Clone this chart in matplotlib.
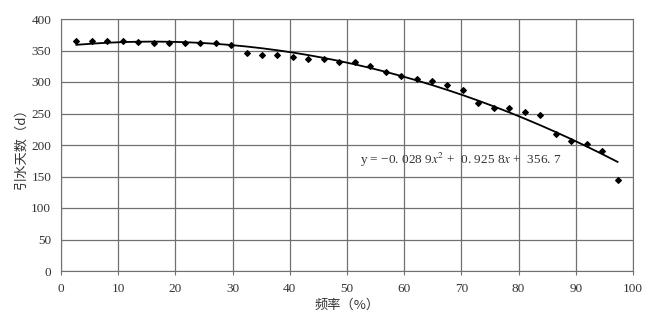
import numpy as np
import matplotlib
matplotlib.use('Agg')
import matplotlib.pyplot as plt

# observed points: frequency (%) vs diversion days
freq = [i / 37 * 100 for i in range(1, 37)]
days = [365, 365, 365, 365, 363, 362, 362, 362, 362, 362, 359, 346,
        343, 343, 340, 336, 336, 331, 331, 326, 316, 310, 304, 301,
        296, 288, 267, 258, 258, 253, 247, 217, 206, 201, 191, 145]

# trend line coefficients shown on the chart (a*x^2 + b*x + c)
coef = [-0.0289, 0.9258, 356.7]

xticks = list(range(0, 101, 10))
yticks = list(range(0, 401, 50))

plt.rcParams['font.family'] = ['Liberation Serif', 'Noto Sans CJK SC']
plt.rcParams['mathtext.fontset'] = 'stix'

fig = plt.figure(figsize=(6.64, 3.22), dpi=100)
ax = fig.add_axes([61 / 664, 51 / 322, 572 / 664, 252 / 322])

fx = np.array(freq)
ax.plot(fx, np.polyval(coef, fx), color='black', lw=1.3, zorder=3)
ax.scatter(freq, days, marker='D', s=8, color='black', zorder=4)

ax.set_xlim(0, 100)
ax.set_ylim(0, 400)
ax.set_xticks(xticks)
ax.set_yticks(yticks)
ax.grid(True, color='#707070', lw=0.9)
ax.set_axisbelow(True)
for s in ax.spines.values():
    s.set_color('#707070')
ax.tick_params(axis='x', length=3, color='#707070', labelsize=9.5, pad=6, labelcolor='#333333')
ax.tick_params(axis='y', length=0, labelsize=9.5, pad=7, labelcolor='#333333')

ax.set_xlabel('频率（%）', fontsize=9.5, color='#333333', labelpad=2,
              family=['Noto Sans CJK SC'])
ax.set_ylabel('引水天数（d）', fontsize=9.5, color='#333333', labelpad=3,
              family=['Noto Sans CJK SC'])

ax.text(52.2, 176, r'y = −0. 028 9$\mathit{x}^2$ +  0. 925 8$\mathit{x}$ +  356. 7',
        fontsize=9.5, color='#333333', va='center', ha='left')

fig.savefig('out.png', dpi=100)
